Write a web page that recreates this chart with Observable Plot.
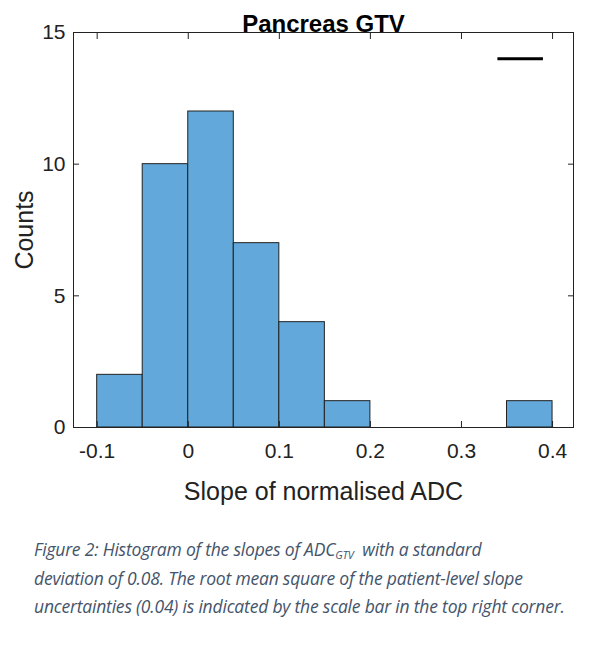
<!DOCTYPE html>
<html><head>
<script src="https://cdn.jsdelivr.net/npm/d3@7"></script>
<script src="https://cdn.jsdelivr.net/npm/@observablehq/plot@0.6"></script>
<style>
body{margin:0;background:#fff;font-family:"Liberation Sans",Arial,sans-serif;}
#cap{font-family:"Open Sans",Lato,sans-serif;font-style:italic;color:#44546a;font-size:17.5px;line-height:28.5px;margin:20px 0 0 34px;width:560px;letter-spacing:-0.2px;}
sub{font-size:11px;line-height:0;vertical-align:-3px;}
svg text{font-size:21px;}
</style></head><body>
<div id="chart"></div>
<div id="cap">Figure 2: Histogram of the slopes of ADC<sub>GTV</sub>&nbsp; with a standard<br>deviation of 0.08. The root mean square of the patient-level slope uncertainties (0.04) is indicated by the scale bar in the top right corner.</div>
<script>
const binStart=[-0.1,-0.05,0,0.05,0.1,0.15,0.35];
const binEnd=[-0.05,0,0.05,0.1,0.15,0.2,0.4];
const counts=[2,10,12,7,4,1,1];
const xTicks=[-0.1,0,0.1,0.2,0.3,0.4];
const yTicks=[0,5,10,15];
const scaleBar=[{x1:0.34,x2:0.39,y:14}];
const bins=counts.map((c,i)=>({x1:binStart[i],x2:binEnd[i],c}));
const plot=Plot.plot({
 width:600,height:515,marginTop:32,marginLeft:73,marginRight:27,marginBottom:88,
 style:{fontFamily:"Liberation Sans, Arial, sans-serif",fontSize:"21px",color:"#222"},
 x:{domain:[-0.126,0.423]},
 y:{domain:[0,15]},
 marks:[
  Plot.rectY(bins,{x1:"x1",x2:"x2",y:"c",fill:"#62a8da",stroke:"#222",strokeWidth:1}),
  Plot.ruleY(scaleBar,{y:"y",x1:"x1",x2:"x2",stroke:"black",strokeWidth:3}),
  Plot.frame({stroke:"#222"}),
  Plot.axisX({anchor:"bottom",ticks:xTicks,tickSize:-6,tickPadding:22,tickFormat:d=>d===0?"0":String(d),label:"Slope of normalised ADC",labelAnchor:"center",labelOffset:72,labelArrow:"none"}),
  Plot.axisX({anchor:"top",ticks:xTicks,tickSize:-6,tickFormat:()=>"",label:null}),
  Plot.axisY({anchor:"left",ticks:yTicks,tickSize:-6,tickPadding:14,label:"Counts",labelAnchor:"center",labelOffset:58,labelArrow:"none"}),
  Plot.axisY({anchor:"right",ticks:yTicks,tickSize:-6,tickFormat:()=>"",label:null}),
  Plot.text(["Pancreas GTV"],{frameAnchor:"top",dy:-18,fontWeight:"bold",fill:"black"})
 ]
});
plot.querySelectorAll('[aria-label="x-axis label"] text, [aria-label="y-axis label"] text').forEach(t=>t.style.fontSize="25px");
plot.querySelectorAll('[aria-label="text"] text').forEach(t=>t.style.fontSize="24px");
document.getElementById("chart").appendChild(plot);
</script>
</body></html>
